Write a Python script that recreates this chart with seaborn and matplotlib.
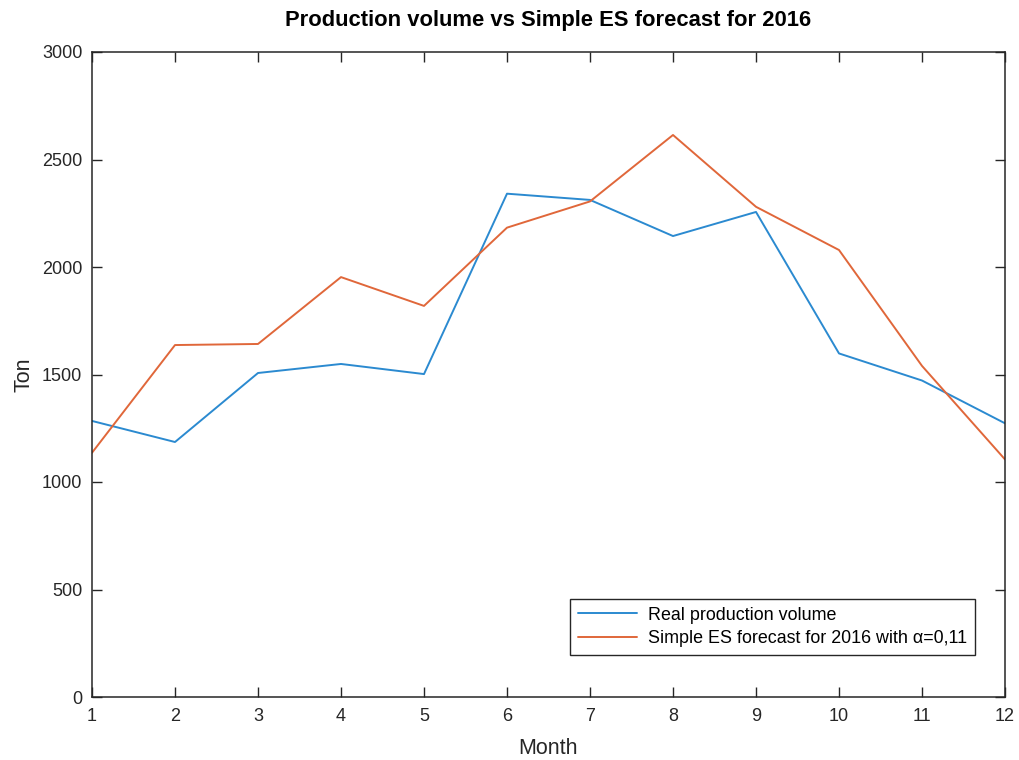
import numpy as np
import pandas as pd
import matplotlib
matplotlib.use("Agg")
import matplotlib.pyplot as plt
import seaborn as sns

# Monthly data for 2016 (tons)
months = list(range(1, 13))
real_volume = [1284, 1186, 1507, 1549, 1502, 2341, 2312, 2144, 2256, 1598, 1472, 1273]
es_forecast = [1136, 1637, 1642, 1953, 1819, 2183, 2305, 2614, 2280, 2079, 1540, 1105]
series_names = ["Real production volume", "Simple ES forecast for 2016 with \u03b1=0,11"]
y_ticks = [0, 500, 1000, 1500, 2000, 2500, 3000]

df = pd.DataFrame({
    "Month": months * 2,
    "Ton": real_volume + es_forecast,
    "Series": [series_names[0]] * 12 + [series_names[1]] * 12,
})

sns.set_theme(style="ticks")
plt.rcParams["font.family"] = ["Liberation Sans", "DejaVu Sans"]
edge = "#262626"
plt.rcParams.update({
    "axes.edgecolor": edge,
    "xtick.color": edge,
    "ytick.color": edge,
    "text.color": "#000000",
})

fig = plt.figure(figsize=(10.19, 7.6), dpi=100)
ax = fig.add_axes([92 / 1019, 1 - 697 / 760, (1005 - 92) / 1019, (697 - 52) / 760])

sns.lineplot(
    data=df, x="Month", y="Ton", hue="Series",
    palette=["#2B8AD0", "#E0673A"], linewidth=1.4, ax=ax,
)

ax.set_xlim(1, 12)
ax.set_ylim(0, 3000)
ax.set_xticks(months)
ax.set_yticks(y_ticks)
ax.tick_params(direction="in", top=True, right=True, length=7, width=1,
               labelsize=13, labelcolor="#262626")
ax.tick_params(axis="x", pad=8)
ax.tick_params(axis="y", pad=7)
for s in ax.spines.values():
    s.set_linewidth(1.1)
    s.set_visible(True)

ax.set_xlabel("Month", fontsize=15.5, color="#262626", labelpad=9)
ax.set_ylabel("Ton", fontsize=15.5, color="#262626", labelpad=5)
ax.set_title("Production volume vs Simple ES forecast for 2016",
             fontsize=15.8, fontweight="bold", pad=19)

leg = ax.legend(loc="lower right", bbox_to_anchor=(0.967, 0.065), borderaxespad=0,
                fontsize=12.9, frameon=True, fancybox=False, framealpha=1,
                handlelength=3.3, edgecolor="#262626", borderpad=0.45,
                labelspacing=0.35, handletextpad=0.6)
leg.get_frame().set_linewidth(1.0)

fig.savefig("out.png", dpi=100)
